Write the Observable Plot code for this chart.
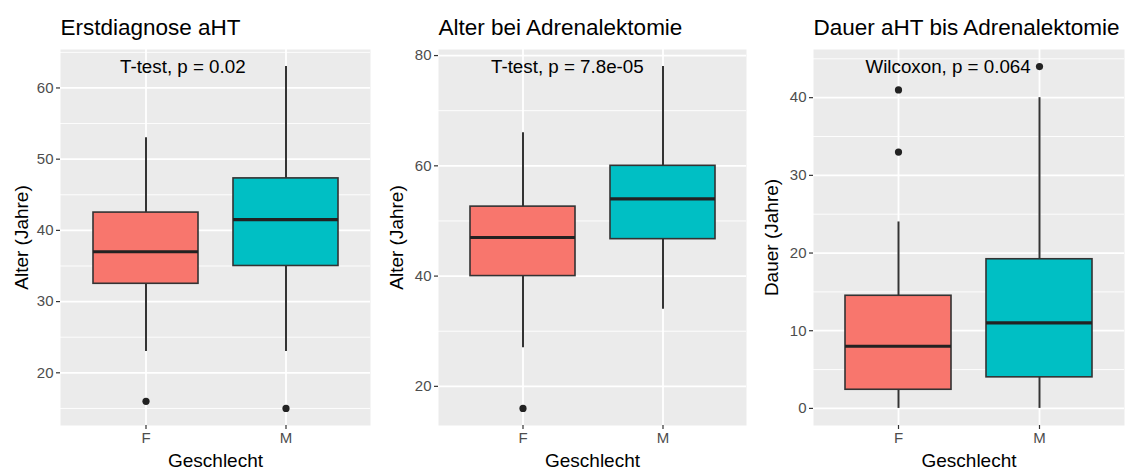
<!DOCTYPE html>
<html>
<head>
<meta charset="utf-8">
<script src="https://cdn.jsdelivr.net/npm/d3@7"></script>
<script src="https://cdn.jsdelivr.net/npm/@observablehq/plot@0.6"></script>
<style>
  html, body { margin: 0; padding: 0; background: #fff; }
  #row { display: flex; width: 1131px; height: 470px; }
  svg { font-family: "Liberation Sans", Arial, Helvetica, sans-serif; }
</style>
</head>
<body>
<div id="row"></div>
<script>
// ---- data ----
const groups = ["F", "M"];
const groupColors = ["#F8766D", "#00BFC4"];
const xTitle = "Geschlecht";

// Panel 1: Erstdiagnose aHT
const p1Title = "Erstdiagnose aHT";
const p1YLabel = "Alter (Jahre)";
const p1Test = "T-test, p = 0.02";
const p1Low = [23, 23];
const p1Q1 = [32.5, 35];
const p1Median = [37, 41.5];
const p1Q3 = [42.5, 47.3];
const p1High = [53, 63];
const p1OutGroup = ["F", "M"];
const p1OutValue = [16, 15];
const p1Ticks = [20, 30, 40, 50, 60];
const p1Minor = [15, 25, 35, 45, 55, 65];

// Panel 2: Alter bei Adrenalektomie
const p2Title = "Alter bei Adrenalektomie";
const p2YLabel = "Alter (Jahre)";
const p2Test = "T-test, p = 7.8e-05";
const p2Low = [27, 34];
const p2Q1 = [40, 46.7];
const p2Median = [47, 54];
const p2Q3 = [52.6, 60];
const p2High = [66, 78];
const p2OutGroup = ["F"];
const p2OutValue = [16];
const p2Ticks = [20, 40, 60, 80];
const p2Minor = [30, 50, 70];

// Panel 3: Dauer aHT bis Adrenalektomie
const p3Title = "Dauer aHT bis Adrenalektomie";
const p3YLabel = "Dauer (Jahre)";
const p3Test = "Wilcoxon, p = 0.064";
const p3Low = [0, 0];
const p3Q1 = [2.4, 4];
const p3Median = [8, 11];
const p3Q3 = [14.5, 19.2];
const p3High = [24, 40];
const p3OutGroup = ["F", "F", "M"];
const p3OutValue = [33, 41, 44];
const p3Ticks = [0, 10, 20, 30, 40];
const p3Minor = [5, 15, 25, 35, 45];

const panels = [
  {title: p1Title, yLabel: p1YLabel, test: p1Test, low: p1Low, q1: p1Q1, med: p1Median, q3: p1Q3, high: p1High,
   outG: p1OutGroup, outV: p1OutValue, ticks: p1Ticks, minor: p1Minor,
   ml: 60, mr: 7, yTitleDx: -39, testDx: -26},
  {title: p2Title, yLabel: p2YLabel, test: p2Test, low: p2Low, q1: p2Q1, med: p2Median, q3: p2Q3, high: p2High,
   outG: p2OutGroup, outV: p2OutValue, ticks: p2Ticks, minor: p2Minor,
   ml: 61, mr: 8, yTitleDx: -42, testDx: -32},
  {title: p3Title, yLabel: p3YLabel, test: p3Test, low: p3Low, q1: p3Q1, med: p3Median, q3: p3Q3, high: p3High,
   outG: p3OutGroup, outV: p3OutValue, ticks: p3Ticks, minor: p3Minor,
   ml: 59, mr: 7, yTitleDx: -42, testDx: -33}
];

const FONT = '"Liberation Sans", Arial, Helvetica, sans-serif';
const row = document.getElementById("row");

for (const p of panels) {
  const rows = groups.map((g, i) => ({g, low: p.low[i], q1: p.q1[i], med: p.med[i], q3: p.q3[i], high: p.high[i]}));
  const outliers = p.outG.map((g, i) => ({g, v: p.outV[i]}));
  const all = [...p.low, ...p.high, ...p.outV];
  const lo = d3.min(all), hi = d3.max(all), pad = (hi - lo) * 0.05;

  const chart = Plot.plot({
    width: 377,
    height: 470,
    marginLeft: p.ml,
    marginRight: p.mr,
    marginTop: 49,
    marginBottom: 45,
    style: {fontFamily: FONT, background: "#fff", color: "#000", overflow: "visible"},
    x: {type: "band", domain: groups, paddingInner: 0.25, paddingOuter: 0.225, axis: null},
    y: {domain: [lo - pad, hi + pad], axis: null},
    color: {domain: groups, range: groupColors},
    marks: [
      Plot.frame({fill: "#EBEBEB", stroke: null}),
      Plot.ruleY(p.minor, {stroke: "#fff", strokeWidth: 0.9}),
      Plot.ruleY(p.ticks, {stroke: "#fff", strokeWidth: 1.8}),
      Plot.ruleX(groups, {x: d => d, stroke: "#fff", strokeWidth: 1.8}),
      Plot.ruleX(rows, {x: "g", y1: "low", y2: "q1", stroke: "#333", strokeWidth: 2}),
      Plot.ruleX(rows, {x: "g", y1: "q3", y2: "high", stroke: "#333", strokeWidth: 2}),
      Plot.barY(rows, {x: "g", y1: "q1", y2: "q3", fill: "g", stroke: "#333", strokeWidth: 1.6}),
      Plot.tickY(rows, {x: "g", y: "med", stroke: "#222", strokeWidth: 3.2}),
      Plot.dot(outliers, {x: "g", y: "v", r: 3.6, fill: "#222", stroke: null}),
      Plot.axisY(p.ticks, {tickSize: 4, tickPadding: 3, fontSize: 15, fill: "#4d4d4d", stroke: "#333", strokeWidth: 1.2, label: null}),
      Plot.axisX({tickSize: 4, tickPadding: 3, fontSize: 15, fill: "#4d4d4d", stroke: "#333", strokeWidth: 1.2, label: null}),
      Plot.text([p.title], {frameAnchor: "top-left", textAnchor: "start", lineAnchor: "bottom", dy: -15, fontSize: 22.5, fill: "#000"}),
      Plot.text([p.yLabel], {frameAnchor: "left", rotate: -90, textAnchor: "middle", lineAnchor: "middle", dx: p.yTitleDx, fontSize: 19, fill: "#000"}),
      Plot.text([xTitle], {frameAnchor: "bottom", textAnchor: "middle", lineAnchor: "bottom", dy: 41, fontSize: 19, fill: "#000"}),
      Plot.text([p.test], {x: () => groups[0], frameAnchor: "top", textAnchor: "start", lineAnchor: "bottom", dx: p.testDx, dy: 23.5, fontSize: 18.75, fill: "#000"})
    ]
  });
  row.appendChild(chart);
}
</script>
</body>
</html>
